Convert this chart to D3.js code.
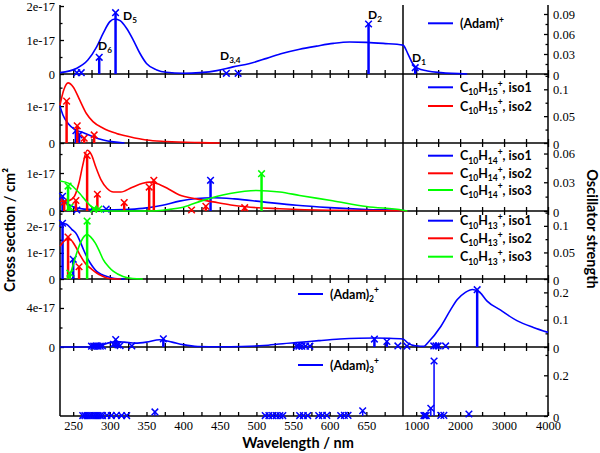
<!DOCTYPE html>
<html><head><meta charset="utf-8">
<script src="https://cdn.jsdelivr.net/npm/d3@7/dist/d3.min.js"></script>
<style>body{margin:0;background:#fff}svg{display:block}</style>
</head><body>
<svg id="c" width="600" height="453"></svg>
<script>
// ---------- DATA (wavelength nm, cross section in units of 1e-17 cm^2 / oscillator strength) ----------
const CS = 1e-17;
const xMajorLeft = [250,300,350,400,450,500,550,600,650];
const xMajorRight = [1000,2000,3000,4000];
const xMinor = [275,325,375,425,475,525,575,625,675,1500,2500,3500];

const leftTicks  = [[0,1,2],[0,1],[0,1],[0,1,2],[0,4],[]];
const leftMinor  = [[0.5,1.5],[0.5,1.5],[0.5,1.5],[0.5,1.5,2.5],[2,6],[]];
const rightTicks = [[0,0.03,0.06,0.09],[0,0.05,0.1],[0,0.03,0.06],[0,0.05,0.1],[0,0.1,0.2],[0,0.2]];
const rightMinor = [[0.015,0.045,0.075],[0.025,0.075,0.125],[0.015,0.045],[0.025,0.075,0.125],[0.05,0.15],[0.1,0.3]];

// Panel 1: (Adam)+
const adamCurve = [[232,0.04],[255,0.17],[270,0.41],[282,0.8],[291,1.2],[300,1.54],[307,1.62],[314,1.57],[323,1.34],[332,1.0],[341,0.61],[350,0.31],[364,0.12],[377,0.05],[400,0.02],[423,0.04],[446,0.1],[468,0.21],[491,0.31],[514,0.46],[536,0.61],[559,0.73],[582,0.82],[605,0.9],[627,0.94],[650,0.93],[673,0.9],[700,0.85],[806,0.61],[919,0.31],[1032,0.17],[1258,0.09],[1559,0.04],[2160,0.0]];
const adamSticks = [[255,0.002],[261,0.002],[285.5,0.025],[307.8,0.092],[459,0.001],[475,0.001],[653,0.075],[978,0.0095]];
const dLabels = [["D","5",123,20],["D","6",98,50],["D","3,4",220,60],["D","2",368,18.5],["D","1",412,61.5]];

// Panel 2: C10H15+
const c15iso1Curve = [[232,1.0],[236,0.76],[243,0.53],[252,0.37],[264,0.28],[277,0.17],[291,0.08],[305,0.03],[320,0]];
const c15iso2Curve = [[232,1.03],[237,1.43],[243,1.63],[250,1.52],[259,1.16],[268,0.8],[277,0.58],[291,0.4],[309,0.26],[327,0.17],[350,0.08],[377,0.04],[423,0.01],[450,0]];
const c15iso1Sticks = [[253.7,0.023],[258,0.015]];
const c15iso2Sticks = [[241,0.078],[255.5,0.032],[265,0.009],[278.6,0.015]];

// Panel 3: C10H14+
const c14iso1Curve = [[232,0.37],[240,0.22],[250,0.11],[265,0.05],[290,0.03],[320,0.04],[345,0.07],[372,0.15],[395,0.26],[418,0.33],[441,0.35],[470,0.32],[509,0.24],[555,0.15],[600,0.09],[650,0.04],[700,0.01],[800,0]];
const c14iso2Curve = [[232,0.25],[245,0.28],[252,0.4],[258,0.75],[263,1.2],[269,1.6],[275,1.48],[281,1.15],[288,0.82],[296,0.6],[305,0.5],[315,0.5],[330,0.62],[345,0.73],[355,0.76],[365,0.72],[380,0.58],[395,0.42],[418,0.32],[441,0.24],[465,0.16],[486,0.11],[532,0.06],[600,0.02],[700,0.005],[800,0]];
const c14iso3Curve = [[232,0.79],[245,0.72],[252,0.6],[259,0.46],[266,0.3],[273,0.15],[280,0.06],[290,0.01],[300,0],[350,0],[380,0.04],[400,0.1],[427,0.28],[464,0.46],[500,0.54],[532,0.5],[559,0.41],[604,0.27],[650,0.12],[700,0.02],[800,0]];
const c14iso1Sticks = [[235.5,0.0154],[255,0.001],[295,0.002],[437.4,0.032]];
const c14iso2Sticks = [[237.7,0.0094],[253.7,0.011],[269,0.058],[283,0.0175],[319.6,0.0088],[353.7,0.025],[360,0.032],[411.5,0.001],[431,0.005],[484,0.0035]];
const c14iso3Sticks = [[243,0.026],[245.5,0.004],[278,0.002],[285,0.002],[507,0.039]];

// Panel 4: C10H13+
const c13iso1Curve = [[232,2.15],[241,2.09],[248,1.9],[255,1.7],[260,1.4],[264,1.13],[268,0.88],[273,0.62],[278,0.42],[282,0.29],[289,0.17],[296,0.1],[303,0.04],[310,0.01],[320,0]];
const c13iso2Curve = [[232,1.25],[236,1.4],[241,1.5],[246,1.5],[252,1.3],[259,0.93],[264,0.7],[268,0.55],[275,0.38],[282,0.23],[289,0.12],[296,0.04],[305,0.01],[315,0]];
const c13iso3Curve = [[241,0],[246,0.2],[252,0.74],[256,1.1],[261,1.45],[265,1.63],[269,1.7],[274,1.6],[280,1.38],[286,1.05],[291,0.74],[298,0.48],[305,0.29],[318,0.1],[331,0.02],[345,0]];
const c13iso1Sticks = [[235.5,0.105],[250,0.037]];
const c13iso2Sticks = [[243,0.079],[258,0.023]];
const c13iso3Sticks = [[245.5,0.011],[269,0.109]];

// Panel 5: (Adam)2+
const adam2Curve = [[232,0],[270,0],[285,0.1],[300,0.45],[310,0.55],[320,0.5],[335,0.4],[350,0.5],[368,0.75],[385,0.5],[400,0.24],[420,0.05],[450,0.02],[480,0.05],[510,0.15],[536,0.34],[559,0.47],[585,0.65],[614,0.82],[640,0.9],[661,0.92],[680,0.9],[700,0.82],[800,0.45],[900,0.2],[1000,0.12],[1180,0.06],[1260,0.41],[1560,2.1],[1785,3.83],[1936,4.86],[2120,5.6],[2282,5.9],[2450,5.6],[2614,4.7],[2915,3.8],[3292,2.7],[3668,2.0],[4000,1.5]];
const adam2Sticks = [[275,0.003],[278,0.003],[281,0.004],[284,0.003],[287,0.003],[290,0.004],[305,0.01],[308,0.027],[311,0.008],[314,0.005],[330,0.004],[373,0.03],[555,0.003],[558,0.003],[562,0.003],[567,0.003],[573,0.003],[661,0.029],[678,0.02],[693,0.004],[790,0.003],[1400,0.004],[1450,0.004],[1500,0.004],[1670,0.004],[2388,0.21]];

// Panel 6: (Adam)3+
const adam3Sticks = [[263,0.002],[266,0.002],[269,0.002],[272,0.002],[275,0.002],[278,0.002],[281,0.002],[284,0.002],[287,0.002],[290,0.002],[296,0.003],[302,0.002],[309,0.003],[316,0.002],[323,0.002],[361.5,0.02],[512,0.002],[517,0.002],[522,0.002],[527,0.002],[532,0.002],[536,0.002],[559,0.002],[564,0.002],[570,0.002],[585,0.002],[590,0.003],[596,0.003],[615,0.002],[620,0.003],[625,0.003],[645,0.026],[1175,0.002],[1200,0.002],[1230,0.002],[1333,0.038],[1407,0.27],[1560,0.003],[1630,0.003],[2200,0.01]];

// ---------- STYLE / LAYOUT ----------
const BLUE="#0000ff", RED="#ff0000", GREEN="#00ff00";
const X0=60, XB=403, X1=548, YTOP=5, YBOT=416;
const layout = [
  {top:5,   bottom:74,  lmax:2.03, rmax:0.1035, sw:2.5, legX:428, legY:[23.3]},
  {top:74,  bottom:143, lmax:1.87, rmax:0.1285, sw:2.5, legX:428, legY:[87.3,106]},
  {top:143, bottom:211, lmax:1.79, rmax:0.071,  sw:2.5, legX:428, legY:[155.7,173.3,190]},
  {top:211, bottom:279, lmax:2.6,  rmax:0.128,  sw:2.5, legX:428, legY:[220.7,238.3,256.7]},
  {top:279, bottom:347, lmax:6.97, rmax:0.249,  sw:2.5, legX:298, legY:[294]},
  {top:347, bottom:416, lmax:7,    rmax:0.339,  sw:1.5, legX:298, legY:[365]}
];
const series = [
  [{c:adamCurve, s:adamSticks, col:BLUE, lab:"(Adam)^{+}"}],
  [{c:c15iso1Curve, s:c15iso1Sticks, col:BLUE, lab:"C_{10}H_{15}^{+}, iso1"},
   {c:c15iso2Curve, s:c15iso2Sticks, col:RED,  lab:"C_{10}H_{15}^{+}, iso2"}],
  [{c:c14iso1Curve, s:c14iso1Sticks, col:BLUE, lab:"C_{10}H_{14}^{+}, iso1"},
   {c:c14iso2Curve, s:c14iso2Sticks, col:RED,  lab:"C_{10}H_{14}^{+}, iso2"},
   {c:c14iso3Curve, s:c14iso3Sticks, col:GREEN,lab:"C_{10}H_{14}^{+}, iso3"}],
  [{c:c13iso1Curve, s:c13iso1Sticks, col:BLUE, lab:"C_{10}H_{13}^{+}, iso1"},
   {c:c13iso2Curve, s:c13iso2Sticks, col:RED,  lab:"C_{10}H_{13}^{+}, iso2"},
   {c:c13iso3Curve, s:c13iso3Sticks, col:GREEN,lab:"C_{10}H_{13}^{+}, iso3"}],
  [{c:adam2Curve, s:adam2Sticks, col:BLUE, lab:"(Adam)_{2}^{+}"}],
  [{c:null, s:adam3Sticks, col:BLUE, lab:"(Adam)_{3}^{+}"}]
];

const SANS = "Lato,'Open Sans',sans-serif";
const SERIF = "'Liberation Serif','DejaVu Serif',serif";

const svg = d3.select("#c");
const x = d3.scaleLinear().domain([232,700,4000]).range([X0,XB,X1]);

function richText(sel, str, size) {
  const parts = str.split(/(_\{[^}]*\}|\^\{[^}]*\})/).filter(s=>s.length);
  let cur = 0;
  parts.forEach(p => {
    let target = 0, txt = p, fs = size;
    if (p.startsWith("_{")) { target = size*0.28; txt = p.slice(2,-1); fs = size*0.68; }
    else if (p.startsWith("^{")) { target = -size*0.42; txt = p.slice(2,-1); fs = size*0.68; }
    sel.append("tspan").attr("dy", target-cur).attr("font-size", fs).text(txt);
    cur = target;
  });
}

const gAxes = svg.append("g");
const gData = svg.append("g");

layout.forEach((L,i) => {
  const yl = d3.scaleLinear().domain([0,L.lmax*CS]).range([L.bottom,L.top]);
  const yr = d3.scaleLinear().domain([0,L.rmax]).range([L.bottom,L.top]);
  const last = i===layout.length-1;

  gAxes.append("line").attr("x1",X0).attr("x2",X1).attr("y1",L.bottom).attr("y2",L.bottom)
    .attr("stroke","#000").attr("stroke-width",1.5);

  const xb = gAxes.append("g").attr("transform",`translate(0,${L.bottom})`)
    .call(d3.axisBottom(x).tickValues(xMajorLeft.concat(xMajorRight)).tickSize(-4).tickPadding(5)
      .tickFormat(last ? d3.format("d") : ""));
  xb.select(".domain").remove();
  gAxes.append("g").attr("transform",`translate(0,${L.bottom})`)
    .call(d3.axisBottom(x).tickValues(xMinor).tickSize(-4).tickFormat(""))
    .select(".domain").remove();
  if (i>0) {
    [xMajorLeft.concat(xMajorRight), xMinor].forEach(tv => {
      gAxes.append("g").attr("transform",`translate(0,${L.top})`)
        .call(d3.axisTop(x).tickValues(tv).tickSize(-4).tickFormat(""))
        .select(".domain").remove();
    });
  }

  const la = gAxes.append("g").attr("transform",`translate(${X0},0)`)
    .call(d3.axisLeft(yl).tickValues(leftTicks[i].map(v=>v*CS)).tickSize(-4).tickPadding(5)
      .tickFormat(v => v===0 ? "0" : Math.round(v/CS)+"e-17"));
  la.select(".domain").remove();
  gAxes.append("g").attr("transform",`translate(${X0},0)`)
    .call(d3.axisLeft(yl).tickValues(leftMinor[i].map(v=>v*CS)).tickSize(-2.5).tickFormat(""))
    .select(".domain").remove();

  const ra = gAxes.append("g").attr("transform",`translate(${X1},0)`)
    .call(d3.axisRight(yr).tickValues(rightTicks[i]).tickSize(-4).tickPadding(5)
      .tickFormat(v => String(v)));
  ra.select(".domain").remove();
  ra.selectAll(".tick text").filter(v => v===0).attr("dy","0.45em");
  gAxes.append("g").attr("transform",`translate(${X1},0)`)
    .call(d3.axisRight(yr).tickValues(rightMinor[i]).tickSize(-2.5).tickFormat(""))
    .select(".domain").remove();

  series[i].forEach((S,k) => {
    if (S.c) {
      gData.append("path").datum(S.c)
        .attr("d", d3.line().x(d=>x(d[0])).y(d=>yl(d[1]*CS)).curve(d3.curveMonotoneX))
        .attr("fill","none").attr("stroke",S.col).attr("stroke-width",1.6);
    }
    gData.selectAll(null).data(S.s).join("line")
      .attr("x1",d=>x(d[0])).attr("x2",d=>x(d[0]))
      .attr("y1",yr(0)).attr("y2",d=>yr(d[1]))
      .attr("stroke",S.col).attr("stroke-width",L.sw);
    gData.selectAll(null).data(S.s).join("path")
      .attr("transform",d=>`translate(${x(d[0])},${yr(d[1])})`)
      .attr("d","M-3.3,-3.3L3.3,3.3M-3.3,3.3L3.3,-3.3")
      .attr("stroke",S.col).attr("stroke-width",1.5).attr("fill","none");

    const ly = L.legY[k];
    gData.append("line").attr("x1",L.legX).attr("x2",L.legX+25).attr("y1",ly).attr("y2",ly)
      .attr("stroke",S.col).attr("stroke-width",2);
    const t = gData.append("text").attr("x",L.legX+32).attr("y",ly+4.5)
      .attr("font-family",SANS).attr("font-weight","bold").attr("font-size",12.5);
    richText(t, S.lab, 12.5);
  });
});

[X0, XB, X1].forEach(xx => {
  gAxes.append("line").attr("x1",xx).attr("x2",xx).attr("y1",YTOP).attr("y2",YBOT)
    .attr("stroke","#000").attr("stroke-width",1.5);
});

svg.selectAll(".tick line").attr("stroke","#000").attr("stroke-width",1.3);
svg.selectAll(".tick text").style("font-family",SERIF).style("font-size","12.5px").style("fill","#000");

dLabels.forEach(d => {
  const t = svg.append("text").attr("x",d[2]).attr("y",d[3])
    .attr("font-family",SANS).attr("font-weight","bold").attr("font-size",12);
  richText(t, d[0]+"_{"+d[1]+"}", 12);
});

svg.append("text").attr("x",298).attr("y",448).attr("text-anchor","middle")
  .attr("font-family",SANS).attr("font-weight","bold").attr("font-size",14.5).text("Wavelength / nm");
svg.append("text").attr("transform","translate(15,230) rotate(-90)").attr("text-anchor","middle")
  .attr("font-family",SANS).attr("font-weight","bold").attr("font-size",14.5).text("Cross section / cm²");
svg.append("text").attr("transform","translate(587,229) rotate(90)").attr("text-anchor","middle")
  .attr("font-family",SANS).attr("font-weight","bold").attr("font-size",14.5).text("Oscillator strength");
</script>
</body></html>
